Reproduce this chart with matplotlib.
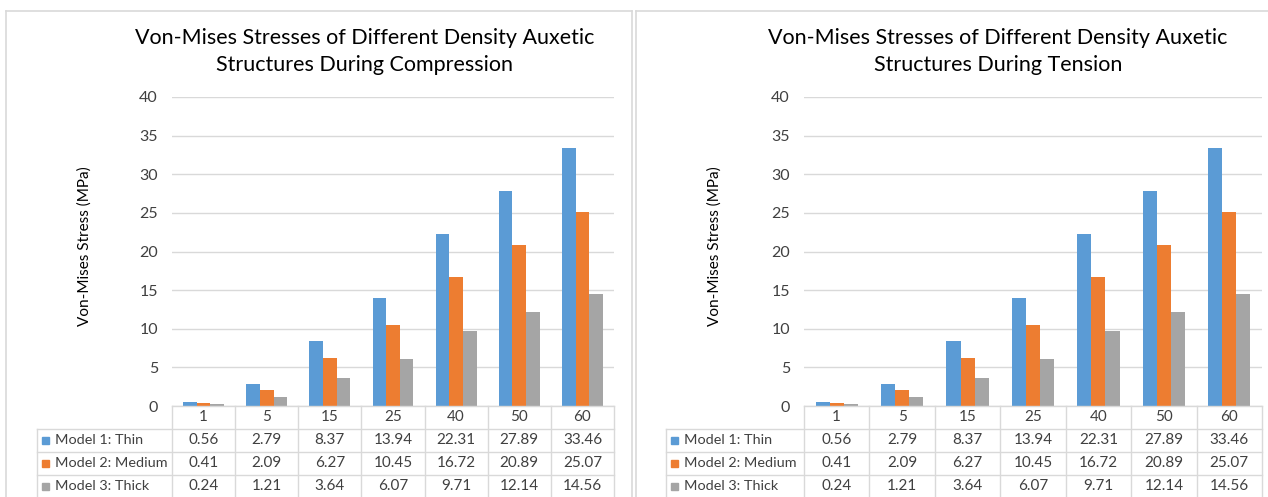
import numpy as np
import matplotlib as mpl
mpl.use('Agg')
import matplotlib.pyplot as plt
from matplotlib.patches import Rectangle

plt.rcParams['font.family'] = ['Lato', 'DejaVu Sans']

# strain levels and von-mises stress (MPa) per model
steps = ['1', '5', '15', '25', '40', '50', '60']
series = ['Model 1: Thin', 'Model 2: Medium', 'Model 3: Thick']
thin = [0.56, 2.79, 8.37, 13.94, 22.31, 27.89, 33.46]
medium = [0.41, 2.09, 6.27, 10.45, 16.72, 20.89, 25.07]
thick = [0.24, 1.21, 3.64, 6.07, 9.71, 12.14, 14.56]
yticks = [0, 5, 10, 15, 20, 25, 30, 35, 40]

colors = ['#5B9BD5', '#ED7D31', '#A5A5A5']
grid_c = '#D9D9D9'
txt_c = '#404040'
tfs = 11  # table numbers
lfs = 10.4  # series names in the table

W, H = 1268, 497
fig = plt.figure(figsize=(W / 100, H / 100), dpi=100)

def fx(x):
    return x / W

def fy(y):
    return 1 - y / H

def chart(title, panel, plot_x, lab_x, title_x, ylab_x, tick_r):
    # panel frame
    x0, x1 = panel
    fig.add_artist(plt.Line2D([fx(x0), fx(x1)], [fy(10.5), fy(10.5)], color=grid_c, lw=1.2))
    fig.add_artist(plt.Line2D([fx(x0), fx(x0)], [fy(10.5), fy(H)], color=grid_c, lw=1.2))
    if x1 < W:
        fig.add_artist(plt.Line2D([fx(x1), fx(x1)], [fy(10.5), fy(H)], color=grid_c, lw=1.2))

    fig.text(fx(title_x), fy(51.5), title, ha='center', va='center', fontsize=15.5,
             color='#000000', linespacing=1.45)
    fig.text(fx(ylab_x), fy(246), 'Von-Mises Stress (MPa)', rotation=90, ha='center',
             va='center', fontsize=11, color='#000000')

    px0, px1 = plot_x
    top, bot = 97, 406
    ax = fig.add_axes([fx(px0), fy(bot), (px1 - px0) / W, (bot - top) / H])
    x = np.arange(len(steps))
    bw = 0.215
    for i, vals in enumerate([thin, medium, thick]):
        ax.bar(x + (i - 1) * bw, vals, bw, color=colors[i], zorder=3)
    ax.set_xlim(-0.5, len(steps) - 0.5)
    ax.set_ylim(0, 40)
    ax.set_yticks(yticks)
    ax.yaxis.grid(True, color=grid_c, lw=1)
    ax.set_xticks([])
    for s in ax.spines.values():
        s.set_visible(False)
    ax.tick_params(axis='y', length=0, pad=(px0 - tick_r) * 0.72, labelsize=11.5,
                   labelcolor=txt_c)

    # data table under the bars
    cw = (px1 - px0) / len(steps)
    left = -0.5 - (px0 - lab_x) / cw
    rows = [406, 429, 452, 475, 498]
    tax = fig.add_axes([fx(lab_x), fy(rows[-1]), (px1 - lab_x) / W, (rows[-1] - rows[0]) / H])
    tax.set_xlim(left, len(steps) - 0.5)
    tax.set_ylim(len(rows) - 1, 0)
    tax.axis('off')
    lk = dict(color=grid_c, lw=1, clip_on=False)
    for k in range(len(steps) + 1):
        tax.plot([k - 0.5, k - 0.5], [0, 4], **lk)
    tax.plot([left, left], [1, 4], **lk)
    tax.plot([-0.5, len(steps) - 0.5], [0, 0], **lk)
    for r in range(1, 5):
        tax.plot([left, len(steps) - 0.5], [r, r], **lk)
    for k, s in enumerate(steps):
        tax.text(k, 0.5, s, ha='center', va='center', fontsize=tfs, color=txt_c)
    sq = 7 / cw
    for r, (name, vals) in enumerate(zip(series, [thin, medium, thick])):
        yy = r + 1.5
        tax.add_patch(Rectangle((left + 5 / cw, yy - 0.17), sq, 0.32, color=colors[r],
                                clip_on=False))
        tax.text(left + 18 / cw, yy, name, ha='left', va='center', fontsize=lfs, color=txt_c)
        for k, v in enumerate(vals):
            tax.text(k, yy, '{:.2f}'.format(v), ha='center', va='center', fontsize=tfs,
                     color=txt_c)

chart('Von-Mises Stresses of Different Density Auxetic\nStructures During Compression',
      (6, 632), (172, 614), 37, 365, 85, 158)
chart('Von-Mises Stresses of Different Density Auxetic\nStructures During Tension',
      (636, 1300), (804, 1262), 666, 998, 715, 790)

plt.savefig('out.png', dpi=100)
